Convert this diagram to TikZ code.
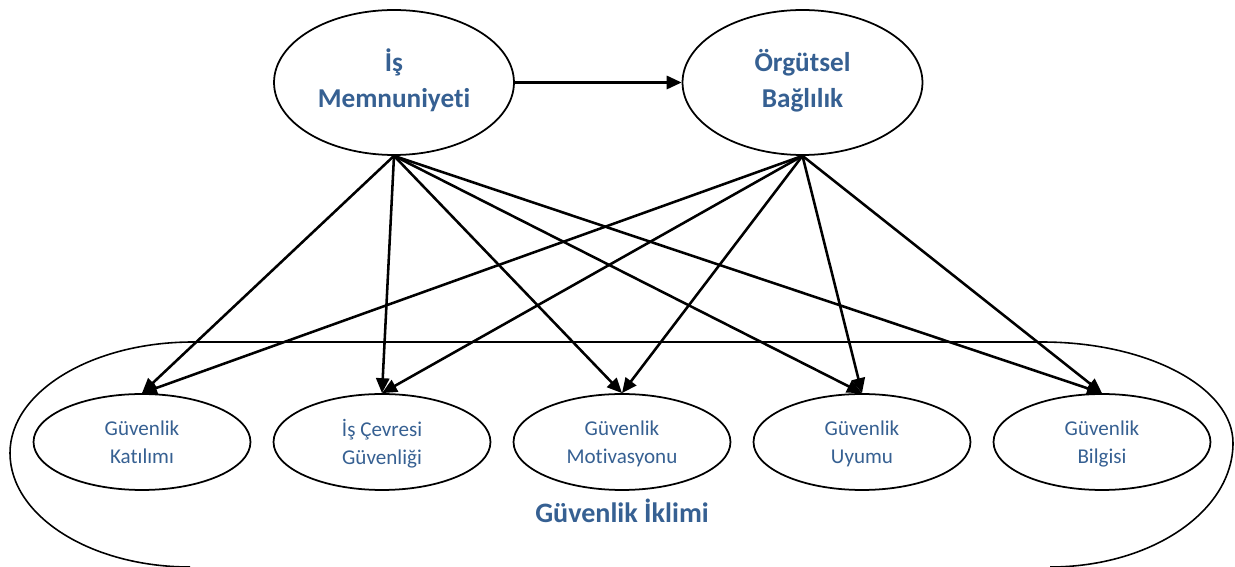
\documentclass[tikz,border=0pt]{standalone}
\usepackage{fontspec}
\setmainfont[Ligatures=NoCommon,RawFeature={-liga;-clig;-dlig}]{Carlito}
\usetikzlibrary{shapes.geometric,arrows.meta}
\definecolor{txtblue}{RGB}{54,96,146}
\tikzset{
  bigell/.style={ellipse,draw=black,line width=1pt,inner sep=0pt,minimum width=4.8cm,minimum height=2.9cm,
    align=center,text=txtblue,font=\fontsize{15.5}{20.5}\selectfont\bfseries},
  smallell/.style={ellipse,draw=black,line width=1pt,inner sep=0pt,minimum width=4.34cm,minimum height=1.92cm,
    align=center,text=txtblue,font=\fontsize{12}{15.9}\selectfont,text depth=0pt},
  conn/.style={line width=1.45pt,-{Triangle[length=8.5pt,width=7.5pt]}},
  outer/.style={line width=0.9pt},
  title/.style={text=txtblue,font=\fontsize{16}{20}\selectfont\bfseries,anchor=base,inner sep=0pt}
}
\begin{document}
\begin{tikzpicture}[x=0.02cm,y=-0.02cm]
\useasboundingbox (0,0) rectangle (1235,567);
% outer enclosing shape
\draw[outer] (190,567) .. controls (90.6,567) and (10,515.9) .. (10,453)
  .. controls (10,391.7) and (92,342) .. (193,342) -- (1042,342)
  .. controls (1147.4,342) and (1233,387.2) .. (1233,443)
  .. controls (1233,511.5) and (1151,567) .. (1050,567);
% top ellipses
\node[bigell] (im) at (394,82.5) {};
\node[bigell] (ob) at (802.5,82.5) {};
\node[bigell,draw=none,minimum width=0pt,minimum height=0pt] (imt) at (394,80.5) {İş\\Memnuniyeti};
\node[bigell,draw=none,minimum width=0pt,minimum height=0pt] (obt) at (802.5,80.5) {Örgütsel\\Bağlılık};
% bottom ellipses
\node[smallell] (gk) at (142,442) {Güvenlik\\Katılımı};
\node[smallell] (ic) at (382,442) {İş Çevresi\\Güvenliği};
\node[smallell] (gm) at (622,442) {Güvenlik\\Motivasyonu};
\node[smallell] (gu) at (862,442) {Güvenlik\\Uyumu};
\node[smallell] (gb) at (1102,442) {Güvenlik\\Bilgisi};
% label
\node[title] (gi) at (622,522.7) {Güvenlik İklimi};
% connectors
\draw[conn] (im.east) -- (ob.west);
\foreach \t in {gk,ic,gm,gu,gb}{
  \draw[conn] (im.south) -- (\t.north);
  \draw[conn] (ob.south) -- (\t.north);
}
\end{tikzpicture}
\end{document}
